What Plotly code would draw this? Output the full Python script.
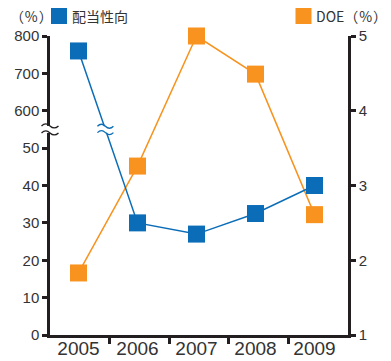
import plotly.graph_objects as go

# ---- data ----
years = ["2005", "2006", "2007", "2008", "2009"]
payout_ratio = [760, 30, 27, 32.5, 40]        # 配当性向 (%)
doe = [1.83, 3.26, 5.0, 4.49, 2.61]           # DOE (%)
left_ticks = [0, 10, 20, 30, 40, 50, 600, 700, 800]
right_ticks = [1, 2, 3, 4, 5]

BLUE = "#0b6db7"
ORANGE = "#f7931e"
AXIS = "#231f20"
TEXT = "#333333"
NUM_FONT = "Liberation Sans, Arial, sans-serif"
CJK_FONT = "'Noto Sans CJK JP', 'Noto Sans CJK SC', sans-serif"

W, H = 391, 361
M = dict(l=50, r=43, t=36, b=26)


def to_axis(v):
    """Broken scale: 0-50 on the lower band, 600-800 on the upper band."""
    return v / 10 if v <= 50 else 6 + (v - 600) / 100


payout_axis = [to_axis(v) for v in payout_ratio]
xs = list(range(len(years)))

fig = go.Figure()
fig.add_trace(go.Scatter(
    x=xs, y=doe, yaxis="y", mode="lines+markers", cliponaxis=False,
    line=dict(color=ORANGE, width=1.5),
    marker=dict(symbol="square", size=17, color=ORANGE, line=dict(width=0)),
    hoverinfo="skip", showlegend=False))
fig.add_trace(go.Scatter(
    x=xs, y=payout_axis, yaxis="y2", mode="lines+markers", cliponaxis=False,
    line=dict(color=BLUE, width=1.5),
    marker=dict(symbol="square", size=17, color=BLUE, line=dict(width=0)),
    hoverinfo="skip", showlegend=False))
# carrier for the boundary-tick axis
fig.add_trace(go.Scatter(x=[], y=[], xaxis="x2", yaxis="y",
                         showlegend=False, hoverinfo="skip"))


def px_x(px):
    return (px - M["l"]) / (W - M["l"] - M["r"])


def px_y(py):
    return (H - M["b"] - py) / (H - M["t"] - M["b"])


shapes = []


def break_mark(xref, x, yref, y, color, half_w, gap):
    # white gap
    shapes.append(dict(type="rect", xref=xref, yref=yref, xanchor=x, yanchor=y,
                       xsizemode="pixel", ysizemode="pixel",
                       x0=-half_w, x1=half_w, y0=-gap, y1=gap,
                       fillcolor="white", line=dict(width=0), layer="above"))
    for dy in (gap, -gap):
        path = (f"M{-half_w},{dy} Q{-half_w/2},{dy+4} 0,{dy} "
                f"T{half_w},{dy}")
        shapes.append(dict(type="path", xref=xref, yref=yref, xanchor=x, yanchor=y,
                           xsizemode="pixel", ysizemode="pixel", path=path,
                           line=dict(color=color, width=1.3), layer="above"))


# break on the left axis
break_mark("paper", 0, "y2", 5.5, AXIS, 8.5, 3.5)
# break on the payout line where it crosses the gap
x_cross = xs[0] + (payout_axis[0] - 5.5) / (payout_axis[0] - payout_axis[1])
break_mark("x", x_cross, "y2", 5.5, BLUE, 8, 3.2)

# header legend squares
for x0, color in ((51, BLUE), (295.5, ORANGE)):
    shapes.append(dict(type="rect", xref="paper", yref="paper",
                       x0=px_x(x0), x1=px_x(x0 + 16), y0=px_y(24), y1=px_y(8),
                       fillcolor=color, line=dict(width=0)))

annotations = [
    dict(text="（\u200a%\u200a）", xref="paper", yref="paper", x=px_x(8), y=px_y(16),
         xanchor="left", yanchor="middle", showarrow=False,
         font=dict(family=CJK_FONT, size=14, color=TEXT)),
    dict(text="配当性向", xref="paper", yref="paper", x=px_x(70), y=px_y(16),
         xanchor="left", yanchor="middle", showarrow=False,
         font=dict(family=CJK_FONT, size=14, color=TEXT)),
    dict(text="DOE（\u200a%\u200a）", xref="paper", yref="paper", x=px_x(314),
         y=px_y(16), xanchor="left", yanchor="middle", showarrow=False,
         font=dict(family=CJK_FONT, size=14, color=TEXT)),
]

fig.update_layout(
    width=W, height=H, margin=M,
    paper_bgcolor="white", plot_bgcolor="white",
    showlegend=False,
    xaxis=dict(range=[-0.483, 4.568], tickvals=xs, ticktext=years,
               ticks="", showline=False, showgrid=False, zeroline=False,
               tickfont=dict(family=NUM_FONT, size=19, color=TEXT),
               automargin=False, fixedrange=True),
    xaxis2=dict(overlaying="x", anchor="y", side="bottom", range=[0, 5],
                tickvals=[1, 2, 3, 4], showticklabels=False,
                ticks="outside", ticklen=6, tickwidth=2.5, tickcolor=AXIS,
                showline=True, linecolor=AXIS, linewidth=2.5,
                showgrid=False, zeroline=False, automargin=False,
                fixedrange=True),
    yaxis=dict(side="right", range=[1, 5], tickvals=right_ticks,
               ticktext=[str(v) for v in right_ticks],
               ticks="outside", ticklen=5, tickwidth=2.5, tickcolor=AXIS,
               showline=True, linecolor=AXIS, linewidth=2.5,
               showgrid=False, zeroline=False,
               tickfont=dict(family=NUM_FONT, size=15, color=TEXT),
               automargin=False, fixedrange=True),
    yaxis2=dict(side="left", overlaying="y", anchor="x", range=[0, 8],
                tickvals=[to_axis(v) for v in left_ticks],
                ticktext=[str(v) for v in left_ticks],
                ticks="outside", ticklen=5, tickwidth=2.5, tickcolor=AXIS,
                showline=True, linecolor=AXIS, linewidth=2.5,
                showgrid=False, zeroline=False,
                tickfont=dict(family=NUM_FONT, size=15, color=TEXT),
                automargin=False, fixedrange=True),
    shapes=shapes,
    annotations=annotations,
)

fig.write_html("out.html", config={"displayModeBar": False})
